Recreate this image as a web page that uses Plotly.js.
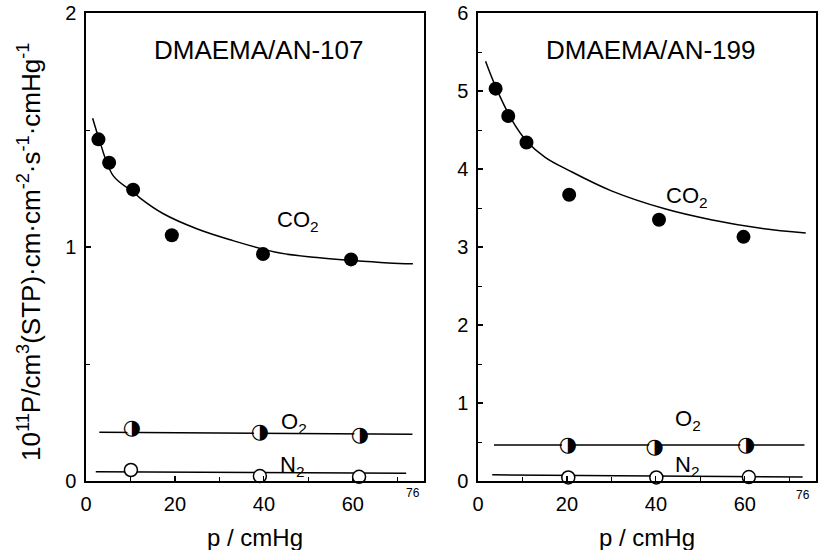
<!DOCTYPE html>
<html>
<head>
<meta charset="utf-8">
<script src="https://cdn.plot.ly/plotly-3.0.1.min.js"></script>
<style>html,body{margin:0;padding:0;background:#fff;}#chart{width:819px;height:550px;}</style>
</head>
<body>
<div id="chart"></div>
<script>
// ---------- Data ----------
// Left panel: DMAEMA/AN-107
const L_co2_p = [2.8, 5.2, 10.6, 19.3, 39.8, 59.6];
const L_co2_P = [1.46, 1.36, 1.245, 1.05, 0.97, 0.947];
const L_co2Fit_p = [1.5, 2.8, 6.1, 10.6, 12.1, 17.4, 24.9, 32.4, 43.6, 52.0, 60.0, 68.0, 73.5];
const L_co2Fit_P = [1.55, 1.47, 1.305, 1.235, 1.21, 1.142, 1.078, 1.031, 0.974, 0.955, 0.942, 0.932, 0.928];
const L_o2_p = [10.3, 39.1, 61.6];
const L_o2_P = [0.225, 0.206, 0.193];
const L_o2Fit_p = [3.0, 73.4];
const L_o2Fit_P = [0.208, 0.200];
const L_n2_p = [10.1, 39.1, 61.4];
const L_n2_P = [0.047, 0.021, 0.018];
const L_n2Fit_p = [2.2, 72.0];
const L_n2Fit_P = [0.040, 0.033];

// Right panel: DMAEMA/AN-199
const R_co2_p = [3.96, 6.8, 10.9, 20.5, 40.7, 59.7];
const R_co2_P = [5.03, 4.68, 4.34, 3.67, 3.35, 3.13];
const R_co2Fit_p = [1.7, 4.0, 7.7, 10.9, 15.1, 20.5, 30.0, 42.0, 52.4, 63.6, 73.7];
const R_co2Fit_P = [5.38, 5.05, 4.62, 4.36, 4.15, 3.98, 3.72, 3.49, 3.35, 3.24, 3.18];
const R_o2_p = [20.2, 39.7, 60.3];
const R_o2_P = [0.45, 0.43, 0.45];
const R_o2Fit_p = [3.6, 73.4];
const R_o2Fit_P = [0.46, 0.46];
const R_n2_p = [20.3, 40.1, 60.9];
const R_n2_P = [0.045, 0.045, 0.05];
const R_n2Fit_p = [3.2, 73.0];
const R_n2Fit_P = [0.08, 0.05];

const panelTitles = ['DMAEMA/AN-107', 'DMAEMA/AN-199'];
const xTickVals = [0, 20, 40, 60];
const xEndLabel = '76';

// ---------- Traces ----------
const FONT = 'Liberation Sans, Arial, Helvetica, sans-serif';
function fitLine(x, y, xa, ya) {
  return {x, y, xaxis: xa, yaxis: ya, mode: 'lines', type: 'scatter',
          line: {color: 'black', width: 1.5, shape: 'spline', smoothing: 1}, hoverinfo: 'skip', cliponaxis: false};
}
function filled(x, y, xa, ya) {
  return {x, y, xaxis: xa, yaxis: ya, mode: 'markers', type: 'scatter', cliponaxis: false,
          marker: {symbol: 'circle', size: 14, color: 'black', line: {width: 0}}};
}
function openC(x, y, xa, ya) {
  return {x, y, xaxis: xa, yaxis: ya, mode: 'markers', type: 'scatter', cliponaxis: false,
          marker: {symbol: 'circle', size: 13, color: 'white', line: {width: 1.5, color: 'black'}}};
}
function half(x, y, xa, ya) {
  return {x, y, xaxis: xa, yaxis: ya, mode: 'markers+text', type: 'scatter', cliponaxis: false,
          text: '\u25D1', textposition: 'middle center',
          textfont: {family: 'DejaVu Sans', size: 21, color: 'black'},
          marker: {symbol: 'circle', size: 12, color: 'white', line: {width: 0}}};
}

const data = [
  fitLine(L_co2Fit_p, L_co2Fit_P, 'x', 'y'),
  fitLine(L_o2Fit_p, L_o2Fit_P, 'x', 'y'),
  fitLine(L_n2Fit_p, L_n2Fit_P, 'x', 'y'),
  filled(L_co2_p, L_co2_P, 'x', 'y'),
  half(L_o2_p, L_o2_P, 'x', 'y'),
  openC(L_n2_p, L_n2_P, 'x', 'y'),
  fitLine(R_co2Fit_p, R_co2Fit_P, 'x2', 'y2'),
  fitLine(R_o2Fit_p, R_o2Fit_P, 'x2', 'y2'),
  fitLine(R_n2Fit_p, R_n2Fit_P, 'x2', 'y2'),
  filled(R_co2_p, R_co2_P, 'x2', 'y2'),
  half(R_o2_p, R_o2_P, 'x2', 'y2'),
  openC(R_n2_p, R_n2_P, 'x2', 'y2')
];

// ---------- Layout ----------
const W = 819, H = 550;
const yDom = [(H - 481) / H, (H - 13) / H];
function xAx(dom, anchor) {
  return {domain: dom, anchor: anchor, range: [0, 76], tickmode: 'array', tickvals: xTickVals,
          ticks: 'inside', ticklen: 5, tickwidth: 1.2, tickcolor: 'black', ticklabelstandoff: 4,
          minor: {tickmode: 'linear', tick0: 0, dtick: 10, ticks: 'inside', ticklen: 4, tickcolor: 'black', tickwidth: 1},
          showline: true, mirror: true, linecolor: 'black', linewidth: 1.6,
          showgrid: false, zeroline: false, fixedrange: true,
          tickfont: {family: FONT, size: 20, color: 'black'}};
}
function yAx(range, anchor) {
  return {domain: yDom, anchor: anchor, range: range, tickmode: 'linear', tick0: 0, dtick: 1,
          ticks: 'inside', ticklen: 5, tickwidth: 1.2, tickcolor: 'black', ticklabelstandoff: 4,
          minor: {tickmode: 'linear', tick0: 0, dtick: 0.5, ticks: 'inside', ticklen: 4, tickcolor: 'black', tickwidth: 1},
          showline: true, mirror: true, linecolor: 'black', linewidth: 1.6,
          showgrid: false, zeroline: false, fixedrange: true,
          tickfont: {family: FONT, size: 20, color: 'black'}};
}

const ann = [];
function lab(text, x, y, xr, yr, size, extra) {
  ann.push(Object.assign({text, x, y, xref: xr, yref: yr, showarrow: false,
    xanchor: 'center', yanchor: 'middle', font: {family: FONT, size: size, color: 'black'}}, extra || {}));
}
// panel titles
lab(panelTitles[0], 38.9, 1.84, 'x', 'y', 26);
lab(panelTitles[1], 38.9, 5.52, 'x2', 'y2', 26);
// gas labels
lab('CO<sub>2</sub>', 47.6, 1.11, 'x', 'y', 22);
lab('O<sub>2</sub>', 46.7, 0.25, 'x', 'y', 22);
lab('N<sub>2</sub>', 46.3, 0.064, 'x', 'y', 22);
lab('CO<sub>2</sub>', 47.0, 3.64, 'x2', 'y2', 22);
lab('O<sub>2</sub>', 47.2, 0.78, 'x2', 'y2', 22);
lab('N<sub>2</sub>', 47.0, 0.19, 'x2', 'y2', 22);
// x titles
lab('p / cmHg', 38, (H - 537) / H, 'x', 'paper', 24);
lab('p / cmHg', 38, (H - 537) / H, 'x2', 'paper', 24);
// "76" end labels
lab(xEndLabel, 73.5, (H - 493) / H, 'x', 'paper', 12);
lab(xEndLabel, 73.0, (H - 495) / H, 'x2', 'paper', 12);
// y title
lab('10<sup>11</sup>P/cm<sup>3</sup>(STP)\u00B7cm\u00B7cm<sup>-2</sup>\u00B7s<sup>-1</sup>\u00B7cmHg<sup>-1</sup>',
    30 / W, (H - 252) / H, 'paper', 'paper', 26, {textangle: -90});

const layout = {
  width: W, height: H, margin: {l: 0, r: 0, t: 0, b: 0, pad: 0},
  paper_bgcolor: 'white', plot_bgcolor: 'white', showlegend: false,
  font: {family: FONT, color: 'black'},
  xaxis: xAx([86 / W, 424 / W], 'y'),
  yaxis: yAx([0, 2], 'x'),
  xaxis2: xAx([478 / W, 816 / W], 'y2'),
  yaxis2: yAx([0, 6], 'x2'),
  annotations: ann
};

Plotly.newPlot('chart', data, layout, {staticPlot: true, displayModeBar: false});
</script>
</body>
</html>
